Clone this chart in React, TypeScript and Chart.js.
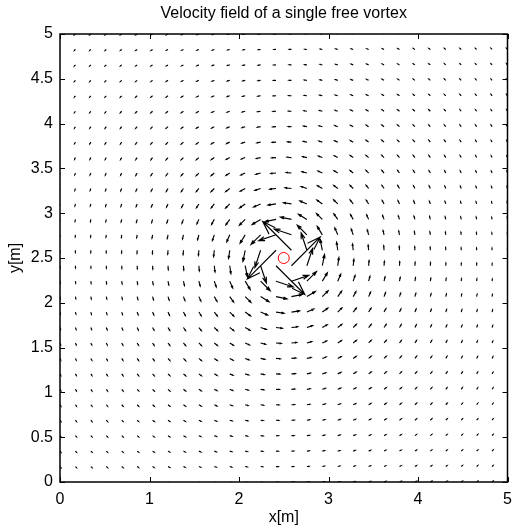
import React, { useEffect, useRef } from "react";
import { Chart, registerables } from "chart.js";

Chart.register(...registerables);

// Quiver grid (linspace(0, 5, 30) in both directions)
const gridX = [0, 0.1724, 0.3448, 0.5172, 0.6897, 0.8621, 1.0345, 1.2069, 1.3793, 1.5517, 1.7241, 1.8966, 2.069, 2.2414, 2.4138, 2.5862, 2.7586, 2.931, 3.1034, 3.2759, 3.4483, 3.6207, 3.7931, 3.9655, 4.1379, 4.3103, 4.4828, 4.6552, 4.8276, 5];
const gridY = [0, 0.1724, 0.3448, 0.5172, 0.6897, 0.8621, 1.0345, 1.2069, 1.3793, 1.5517, 1.7241, 1.8966, 2.069, 2.2414, 2.4138, 2.5862, 2.7586, 2.931, 3.1034, 3.2759, 3.4483, 3.6207, 3.7931, 3.9655, 4.1379, 4.3103, 4.4828, 4.6552, 4.8276, 5];

// Free vortex: position and circulation (velocity = circulation / (2*pi*r), counter-clockwise)
const vortexX = [2.5];
const vortexY = [2.5];
const circulation = 0.348;

const xTicks = [0, 1, 2, 3, 4, 5];
const yTicks = [0, 0.5, 1, 1.5, 2, 2.5, 3, 3.5, 4, 4.5, 5];

const titleText = "Velocity field of a single free vortex";
const xLabel = "x[m]";
const yLabel = "y[m]";

const FONT = "'Liberation Sans', Arial, Helvetica, sans-serif";

type Arrow = { x: number; y: number; u: number; v: number };

function buildArrows(): Arrow[] {
  const out: Arrow[] = [];
  for (const gx of gridX) {
    for (const gy of gridY) {
      let u = 0;
      let v = 0;
      for (let i = 0; i < vortexX.length; i++) {
        const dx = gx - vortexX[i];
        const dy = gy - vortexY[i];
        const r2 = dx * dx + dy * dy;
        if (r2 < 1e-9) continue;
        const k = circulation / (2 * Math.PI * r2);
        u += -k * dy;
        v += k * dx;
      }
      out.push({ x: gx, y: gy, u, v });
    }
  }
  return out;
}

const quiverPlugin = {
  id: "quiver",
  beforeDatasetsDraw(chart: any) {
    const ds = chart.data.datasets[0];
    const xs = chart.scales.x;
    const ys = chart.scales.y;
    const ctx = chart.ctx as CanvasRenderingContext2D;
    const area = chart.chartArea;
    ctx.save();
    ctx.beginPath();
    ctx.rect(area.left, area.top, area.right - area.left, area.bottom - area.top);
    ctx.clip();
    ctx.strokeStyle = "#000";
    ctx.lineWidth = 1.15;
    const alpha = 0.33;
    const beta = 0.33;
    ctx.beginPath();
    for (const p of ds.data as Arrow[]) {
      const tx = p.x + p.u;
      const ty = p.y + p.v;
      const b1x = tx - alpha * (p.u + beta * p.v);
      const b1y = ty - alpha * (p.v - beta * p.u);
      const b2x = tx - alpha * (p.u - beta * p.v);
      const b2y = ty - alpha * (p.v + beta * p.u);
      ctx.moveTo(xs.getPixelForValue(p.x), ys.getPixelForValue(p.y));
      ctx.lineTo(xs.getPixelForValue(tx), ys.getPixelForValue(ty));
      ctx.moveTo(xs.getPixelForValue(b1x), ys.getPixelForValue(b1y));
      ctx.lineTo(xs.getPixelForValue(tx), ys.getPixelForValue(ty));
      ctx.lineTo(xs.getPixelForValue(b2x), ys.getPixelForValue(b2y));
    }
    ctx.stroke();
    ctx.restore();
  },
};

const boxPlugin = {
  id: "matlabBox",
  afterDraw(chart: any) {
    const ctx = chart.ctx as CanvasRenderingContext2D;
    const a = chart.chartArea;
    const xs = chart.scales.x;
    const ys = chart.scales.y;
    const tl = 5;
    ctx.save();
    ctx.strokeStyle = "#000";
    ctx.lineWidth = 1;
    ctx.beginPath();
    for (const t of xTicks) {
      const px = Math.round(xs.getPixelForValue(t)) + 0.5;
      ctx.moveTo(px, a.bottom);
      ctx.lineTo(px, a.bottom - tl);
      ctx.moveTo(px, a.top);
      ctx.lineTo(px, a.top + tl);
    }
    for (const t of yTicks) {
      const py = Math.round(ys.getPixelForValue(t)) + 0.5;
      ctx.moveTo(a.left, py);
      ctx.lineTo(a.left + tl, py);
      ctx.moveTo(a.right, py);
      ctx.lineTo(a.right - tl, py);
    }
    ctx.stroke();
    ctx.lineWidth = 1.5;
    ctx.strokeRect(a.left, a.top, a.right - a.left, a.bottom - a.top);
    // Title centred over the axes box (MATLAB style)
    ctx.fillStyle = "#000";
    ctx.font = "16px " + FONT;
    ctx.textAlign = "center";
    ctx.textBaseline = "middle";
    ctx.fillText(titleText, (a.left + a.right) / 2, 14);
    ctx.restore();
  },
};

export default function App() {
  const ref = useRef<HTMLCanvasElement | null>(null);
  useEffect(() => {
    if (!ref.current) return;
    Chart.defaults.font.family = FONT;
    Chart.defaults.font.size = 16;
    Chart.defaults.color = "#000";
    const chart = new Chart(ref.current, {
      type: "scatter",
      data: {
        datasets: [
          {
            label: "velocity",
            data: buildArrows() as any,
            pointRadius: 0,
            pointHoverRadius: 0,
            showLine: false,
          },
          {
            label: "vortex",
            data: vortexX.map((x, i) => ({ x, y: vortexY[i] })),
            pointRadius: 5.5,
            pointStyle: "circle",
            pointBorderColor: "#ff0000",
            pointBackgroundColor: "rgba(0,0,0,0)",
            pointBorderWidth: 1,
            showLine: false,
          },
        ],
      },
      options: {
        animation: false,
        responsive: false,
        events: [],
        layout: { padding: { left: 0, right: 4.5, top: 34, bottom: 0 } },
        plugins: {
          legend: { display: false },
          tooltip: { enabled: false },
          title: { display: false },
        },
        scales: {
          x: {
            type: "linear",
            min: 0,
            max: 5,
            afterBuildTicks: (s: any) => {
              s.ticks = xTicks.map((v) => ({ value: v }));
            },
            afterFit: (s: any) => {
              s.height = 47;
              s.paddingRight = 4.5;
              s.paddingLeft = 0;
            },
            ticks: {
              callback: (v: any) => String(v),
              padding: 8,
              maxRotation: 0,
              color: "#000",
              font: { size: 16 },
            },
            grid: { display: false, drawTicks: false },
            border: { display: false },
            title: {
              display: true,
              text: xLabel,
              color: "#000",
              font: { size: 16 },
              padding: { top: 0, bottom: 1.4 },
            },
          },
          y: {
            type: "linear",
            min: 0,
            max: 5,
            afterBuildTicks: (s: any) => {
              s.ticks = yTicks.map((v) => ({ value: v }));
            },
            afterFit: (s: any) => {
              s.width = 60;
              s.paddingTop = 0;
            },
            ticks: {
              callback: (v: any) => String(v),
              padding: 7,
              color: "#000",
              font: { size: 16 },
            },
            grid: { display: false, drawTicks: false },
            border: { display: false },
            title: {
              display: true,
              text: yLabel,
              color: "#000",
              font: { size: 16 },
              padding: { top: 6.4, bottom: 0 },
            },
          },
        },
      },
      plugins: [quiverPlugin, boxPlugin],
    });
    return () => chart.destroy();
  }, []);
  return (
    <canvas
      ref={ref}
      width={514}
      height={529}
      style={{ position: "absolute", left: 0, top: 0, display: "block" }}
    />
  );
}
